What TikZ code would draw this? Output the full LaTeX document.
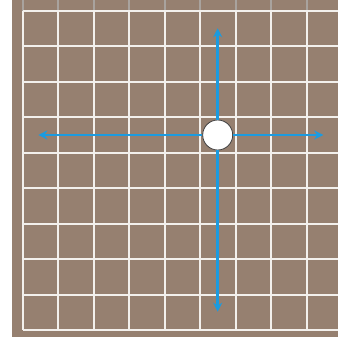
\documentclass[tikz,border=0pt]{standalone}
\usetikzlibrary{arrows.meta}

\definecolor{board}{HTML}{968070}
\definecolor{gridline}{HTML}{F3F0EC}
\definecolor{moveblue}{HTML}{1B9BE0}

\begin{document}
\begin{tikzpicture}[x=1pt, y=-1pt, >={Stealth[length=9pt, width=9pt]},
  move/.style={->, moveblue, line width=2.6pt},
  gridrule/.style={gridline, line width=2pt}]

\useasboundingbox (0,0) rectangle (338,337);
\fill[board] (12,0) rectangle (338,337);

% faint rules above the top edge
\foreach \i in {0,...,8}
  \draw[gray!60, line width=1.6pt, opacity=0.7] (22.7+35.5*\i,0) -- (22.7+35.5*\i,10.7);

\foreach \i in {0,...,8}
  \draw[gridrule] (22.7+35.5*\i,10.7) -- (22.7+35.5*\i,330.2);
\foreach \j in {0,...,9}
  \draw[gridrule] (22.7,10.7+35.5*\j) -- (338,10.7+35.5*\j);

\node[circle, draw=black!75, thick, fill=white, minimum size=30pt, inner sep=0pt] (piece) at (217.7,135) {};

\coordinate (up) at (217.7,28.3);
\coordinate (down) at (217.7,311.7);
\coordinate (left) at (38.3,135);
\coordinate (right) at (323.3,135);

\draw[move] (piece) -- (up);
\draw[move] (piece) -- (down);
\draw[move] (piece) -- (left);
\draw[move] (piece) -- (right);

\end{tikzpicture}
\end{document}
